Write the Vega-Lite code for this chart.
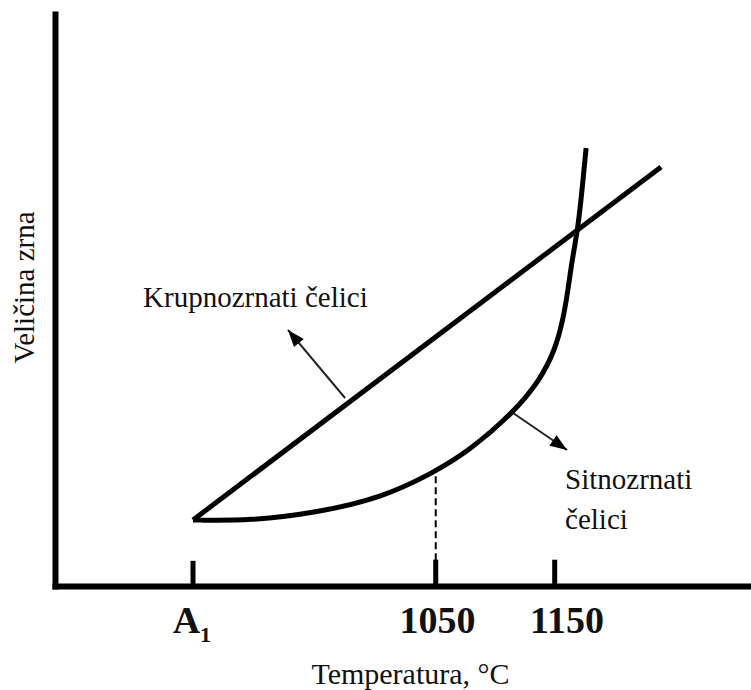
{
  "$schema": "https://vega.github.io/schema/vega-lite/v6.json",
  "width": 696,
  "height": 572,
  "autosize": {"type": "none"},
  "padding": {"left": 55, "top": 14, "right": 0, "bottom": 104},
  "background": "white",
  "config": {"view": {"stroke": null}, "font": "Liberation Serif"},
  "datasets": {
    "coarse": [{"t": 846, "v": 11.54}, {"t": 1239.4, "v": 73.25}],
    "fine": [
      {"t": 846, "v": 11.54}, {"t": 893.9, "v": 11.4}, {"t": 950.2, "v": 12.8},
      {"t": 1005.7, "v": 15.5}, {"t": 1047.7, "v": 19.76}, {"t": 1078.0, "v": 23.6},
      {"t": 1115.0, "v": 30.24}, {"t": 1137.7, "v": 36.01},
      {"t": 1150.3, "v": 41.26}, {"t": 1157.0, "v": 46.5}, {"t": 1161.2, "v": 51.75},
      {"t": 1164.6, "v": 56.99}, {"t": 1169.6, "v": 62.59}, {"t": 1173.0, "v": 69.23},
      {"t": 1176.4, "v": 76.57}
    ],
    "ticks": [{"t": 846, "v": 0, "v2": 4.4}, {"t": 1050, "v": 0, "v2": 4.6}, {"t": 1150, "v": 0, "v2": 4.6}],
    "dashed": [{"t": 1050, "v": 4.5, "v2": 19.8}],
    "arrow1": [{"t": 973.8, "v": 32.87, "t2": 925.8, "v2": 44.76}],
    "arrow2": [{"t": 1115.0, "v": 30.24, "t2": 1160.4, "v2": 23.78}],
    "head1": [{"t": 925.8, "v": 44.76}],
    "head2": [{"t": 1160.4, "v": 23.78}],
    "notes": [
      {"t": 804.0, "v": 48.78, "label": "Krupnozrnati čelici"},
      {"t": 1158.7, "v": 16.96, "label": "Sitnozrnati"},
      {"t": 1158.7, "v": 9.97, "label": "čelici"}
    ],
    "ticklabels": [
      {"t": 840.5, "v": -8.22, "label": "A"},
      {"t": 1051.5, "v": -8.22, "label": "1050"},
      {"t": 1160.4, "v": -8.22, "label": "1150"}
    ],
    "subscript": [{"t": 851.9, "v": -9.79, "label": "1"}]
  },
  "encoding": {
    "x": {
      "field": "t", "type": "quantitative",
      "scale": {"domain": [730, 1315], "nice": false, "zero": false},
      "axis": {
        "title": "Temperatura, °C", "labels": false, "ticks": false, "grid": false,
        "domain": true, "domainColor": "black", "domainWidth": 6, "domainCap": "square",
        "titleFont": "Liberation Serif", "titleFontSize": 30, "titleFontWeight": "normal",
        "titleColor": "#111", "titleX": 355, "titleY": 97, "titleBaseline": "alphabetic", "titleAlign": "center"
      }
    },
    "y": {
      "field": "v", "type": "quantitative",
      "scale": {"domain": [0, 100], "nice": false, "zero": false},
      "axis": {
        "title": "Veličina zrna", "labels": false, "ticks": false, "grid": false,
        "domain": true, "domainColor": "black", "domainWidth": 6, "domainCap": "square",
        "titleFont": "Liberation Serif", "titleFontSize": 29, "titleFontWeight": "normal",
        "titleColor": "#111", "titleX": -22, "titleY": 273, "titleAngle": 270,
        "titleBaseline": "alphabetic", "titleAlign": "center"
      }
    }
  },
  "layer": [
    {
      "data": {"name": "ticks"},
      "mark": {"type": "rule", "color": "black", "strokeWidth": 5},
      "encoding": {"y2": {"field": "v2"}}
    },
    {
      "data": {"name": "dashed"},
      "mark": {"type": "rule", "color": "black", "strokeWidth": 2, "strokeDash": [7, 4]},
      "encoding": {"y2": {"field": "v2"}}
    },
    {
      "data": {"name": "coarse"},
      "mark": {"type": "line", "color": "black", "strokeWidth": 5, "strokeCap": "butt"},
      "encoding": {}
    },
    {
      "data": {"name": "fine"},
      "mark": {"type": "line", "color": "black", "strokeWidth": 5, "interpolate": "basis", "strokeCap": "butt"},
      "encoding": {}
    },
    {
      "data": {"name": "arrow1"},
      "mark": {"type": "rule", "color": "#222", "strokeWidth": 2},
      "encoding": {"x2": {"field": "t2"}, "y2": {"field": "v2"}}
    },
    {
      "data": {"name": "arrow2"},
      "mark": {"type": "rule", "color": "#222", "strokeWidth": 2},
      "encoding": {"x2": {"field": "t2"}, "y2": {"field": "v2"}}
    },
    {
      "data": {"name": "head1"},
      "mark": {"type": "point", "filled": true, "color": "black", "opacity": 1, "shape": "M0,0L-0.75,2L0.75,2Z", "size": 289, "angle": 320, "strokeWidth": 0}
    },
    {
      "data": {"name": "head2"},
      "mark": {"type": "point", "filled": true, "color": "black", "opacity": 1, "shape": "M0,0L-0.75,2L0.75,2Z", "size": 289, "angle": 124, "strokeWidth": 0}
    },
    {
      "data": {"name": "notes"},
      "mark": {"type": "text", "align": "left", "baseline": "alphabetic", "font": "Liberation Serif", "fontSize": 29, "color": "#111"},
      "encoding": {"text": {"field": "label"}}
    },
    {
      "data": {"name": "ticklabels"},
      "mark": {"type": "text", "align": "center", "baseline": "alphabetic", "font": "Liberation Serif", "fontSize": 38, "fontWeight": "bold", "color": "#111"},
      "encoding": {"text": {"field": "label"}}
    },
    {
      "data": {"name": "subscript"},
      "mark": {"type": "text", "align": "left", "baseline": "alphabetic", "font": "Liberation Serif", "fontSize": 22, "fontWeight": "bold", "color": "#111"},
      "encoding": {"text": {"field": "label"}}
    },
    {
      "data": {"values": [{}]},
      "mark": {"type": "rule", "color": "black", "strokeWidth": 6, "strokeCap": "square"},
      "encoding": {"x": {"datum": 730}, "x2": {"datum": 1315}, "y": {"datum": 100}}
    }
  ]
}
